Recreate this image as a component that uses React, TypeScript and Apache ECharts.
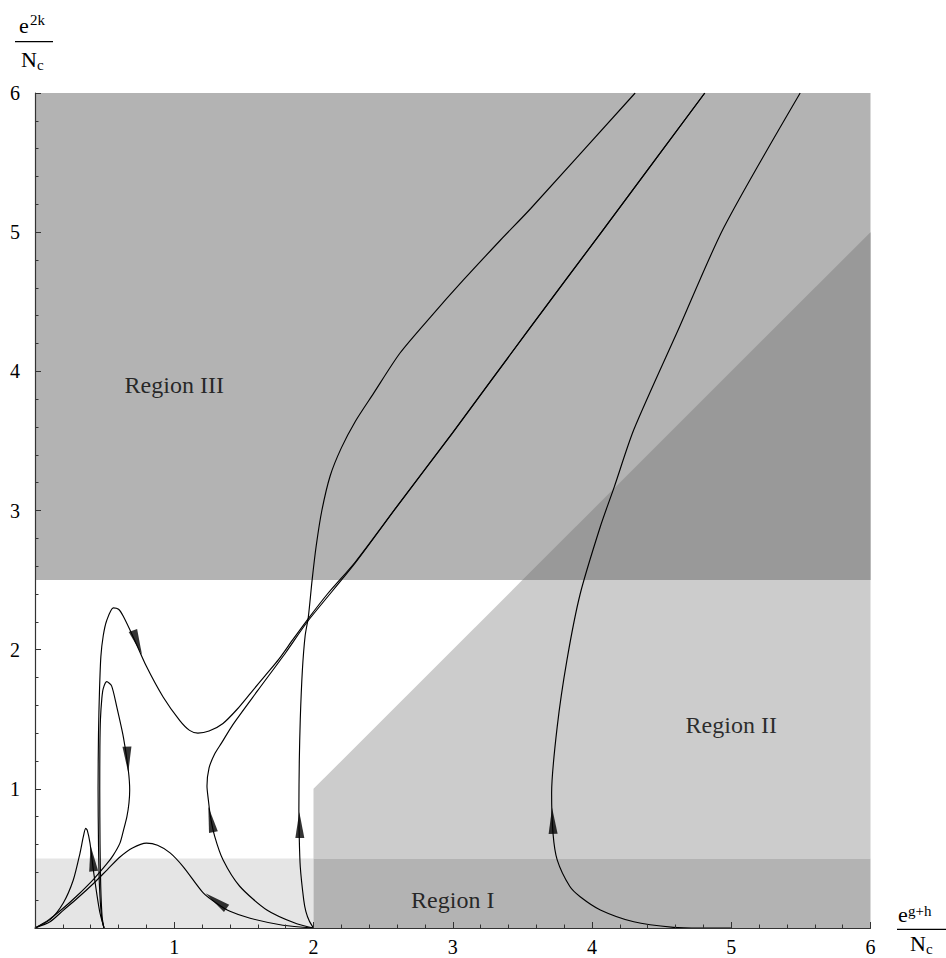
import React, { useEffect, useRef } from 'react';
import * as echarts from 'echarts';

// ---- axis ticks ----
const X_TICK_VALUES = [0, 1, 2, 3, 4, 5, 6];
const Y_TICK_VALUES = [0, 1, 2, 3, 4, 5, 6];

// ---- shaded regions (data coordinates) ----
const REGION_I_LEFT = [[0, 0], [2, 0], [2, 0.5], [0, 0.5]];
const REGION_I_II = [[2, 0], [6, 0], [6, 0.5], [2, 0.5]];
const REGION_II = [[2, 0.5], [6, 0.5], [6, 2.5], [3.5, 2.5], [2, 1]];
const REGION_III = [[0, 2.5], [6, 2.5], [6, 6], [0, 6]];
const REGION_II_III = [[3.5, 2.5], [6, 2.5], [6, 5]];

const REGION_LABELS = [
  { name: 'Region III', pos: [1.0, 3.9] },
  { name: 'Region II', pos: [5.0, 1.46] },
  { name: 'Region I', pos: [3.0, 0.2] },
];

// ---- flow lines ----
const CURVE_HUMP = [
  [0, 0], [0.108, 0.06], [0.203, 0.18], [0.275, 0.345], [0.323, 0.537], [0.347, 0.656],
  [0.364, 0.716], [0.376, 0.70], [0.395, 0.61], [0.419, 0.417], [0.443, 0.25], [0.467, 0.106], [0.496, 0],
];
const CURVE_B = [
  [0.495, 0], [0.482, 0.08], [0.472, 0.3], [0.467, 0.6], [0.465, 1.0], [0.466, 1.3], [0.47, 1.5],
  [0.48, 1.65], [0.49, 1.72], [0.515, 1.77], [0.55, 1.74], [0.587, 1.59], [0.635, 1.37],
  [0.67, 1.135], [0.68, 0.99], [0.675, 0.9], [0.66, 0.8], [0.635, 0.7], [0.61, 0.61],
  [0.56, 0.52], [0.515, 0.46], [0.42, 0.35], [0.3, 0.23], [0.2, 0.14], [0.1, 0.06], [0, 0],
];
const CURVE_C = [
  [0, 0], [0.108, 0.045], [0.203, 0.127], [0.3, 0.21], [0.42, 0.32], [0.52, 0.42], [0.61, 0.51],
  [0.7, 0.575], [0.8, 0.61], [0.88, 0.595], [0.97, 0.54], [1.065, 0.44], [1.21, 0.25],
  [1.3, 0.18], [1.4, 0.12], [1.545, 0.07], [1.78, 0.02], [2, 0],
];
const CURVE_H = [
  [0.495, 0], [0.478, 0.08], [0.463, 0.3], [0.456, 0.6], [0.453, 1.0], [0.456, 1.4], [0.463, 1.7],
  [0.473, 1.95], [0.49, 2.1], [0.515, 2.21], [0.5625, 2.3], [0.6, 2.29], [0.634, 2.24],
  [0.706, 2.09], [0.8, 1.88], [0.92, 1.66], [1.04, 1.49], [1.11, 1.42], [1.17, 1.4],
  [1.25, 1.415], [1.35, 1.47], [1.45, 1.57], [1.55, 1.69], [1.65, 1.81], [1.75, 1.93],
  [1.85, 2.07], [1.96, 2.22], [2.1, 2.4], [2.3, 2.63], [2.6, 3.03], [3.0, 3.56],
  [3.56, 4.32], [4.06, 4.99], [4.81, 6],
];
const CURVE_D = [
  [2, 0], [1.88, 0.03], [1.665, 0.13], [1.47, 0.3], [1.35, 0.49], [1.29, 0.66], [1.26, 0.8],
  [1.245, 0.92], [1.235, 1.02], [1.25, 1.15], [1.29, 1.25], [1.34, 1.33], [1.42, 1.46],
  [1.6, 1.707], [1.8, 1.978], [1.96, 2.206], [2.3, 2.623], [2.6, 3.03], [3.0, 3.56],
  [3.56, 4.32], [4.06, 4.99], [4.81, 6],
];
const CURVE_E = [
  [2, 0], [1.97, 0.05], [1.945, 0.12], [1.93, 0.2], [1.905, 0.44], [1.897, 0.68], [1.895, 0.85],
  [1.898, 1.2], [1.905, 1.5], [1.92, 1.85], [1.94, 2.1], [1.963, 2.236], [1.99, 2.5],
  [2.02, 2.75], [2.06, 3.0], [2.12, 3.25], [2.2, 3.45], [2.3, 3.64], [2.43, 3.84], [2.62, 4.13],
  [2.84, 4.39], [3.08, 4.66], [3.34, 4.94], [3.56, 5.17], [4.31, 6],
];
const CURVE_G = [
  [5, 0], [4.78, 0.0], [4.585, 0.005], [4.3, 0.045], [4.06, 0.13], [3.915, 0.225], [3.84, 0.3],
  [3.75, 0.49], [3.72, 0.68], [3.71, 0.97], [3.75, 1.445], [3.82, 1.925], [3.915, 2.4],
  [4.06, 2.885], [4.16, 3.17], [4.3, 3.58], [4.62, 4.3], [4.945, 5.03], [5.495, 6],
];

// arrows: [x, y, dx, dy] (position on the curve and flow direction)
const ARROWS = [
  [0.41, 0.5, -0.12, 1],
  [0.665, 1.21, 0.05, -1],
  [0.736, 2.05, 0.06, -0.16],
  [1.3, 0.195, -1, 0.72],
  [1.263, 0.78, -0.2, 1],
  [1.9, 0.74, -0.02, 1],
  [3.717, 0.77, -0.04, 1],
];

const REGIONS = [
  { points: REGION_I_LEFT, color: '#e5e5e5' },
  { points: REGION_II, color: '#cccccc' },
  { points: REGION_I_II, color: '#b3b3b3' },
  { points: REGION_III, color: '#b3b3b3' },
  { points: REGION_II_III, color: '#999999' },
];

const SERIF = "'Liberation Serif', 'Times New Roman', serif";

export default function App() {
  const ref = useRef<HTMLDivElement>(null);
  useEffect(() => {
    const chart = echarts.init(ref.current as HTMLDivElement, null, { renderer: 'svg' });

    const curve = (data: number[][], width = 1.15) => ({
      type: 'line',
      data,
      showSymbol: false,
      symbol: 'none',
      smooth: 0.25,
      lineStyle: { color: '#000', width },
      z: 3,
      silent: true,
    });

    const axisCommon = {
      type: 'value',
      min: 0,
      max: 6,
      interval: 1,
      z: 10,
      splitLine: { show: false },
      axisLine: { show: true, onZero: false, lineStyle: { color: '#333', width: 1.2 } },
      axisTick: { show: true, inside: true, length: 6, lineStyle: { color: '#333', width: 1 } },
      minorTick: { show: true, splitNumber: 5, length: 3.5, lineStyle: { color: '#333', width: 1 } },
      minorSplitLine: { show: false },
    };

    const option: any = {
      animation: false,
      backgroundColor: '#ffffff',
      grid: { left: 35, right: 75.5, top: 93, bottom: 30, containLabel: false, outerBoundsMode: 'none' },
      xAxis: {
        ...axisCommon,
        axisLabel: {
          show: true,
          margin: 9,
          fontFamily: SERIF,
          fontSize: 20,
          color: '#000',
          formatter: (v: number) => (X_TICK_VALUES.includes(v) && v !== 0 ? String(v) : ''),
        },
      },
      yAxis: {
        ...axisCommon,
        axisLabel: {
          show: true,
          margin: 15,
          fontFamily: SERIF,
          fontSize: 20,
          color: '#000',
          formatter: (v: number) => (Y_TICK_VALUES.includes(v) && v !== 0 ? String(v) : ''),
        },
      },
      series: [
        {
          type: 'custom',
          coordinateSystem: 'cartesian2d',
          silent: true,
          z: 1,
          clip: true,
          data: REGIONS.map((_, i) => [i, 0]),
          renderItem: (params: any, api: any) => {
            const r = REGIONS[api.value(0)];
            const pts = r.points.map((p) => api.coord(p));
            return { type: 'polygon', shape: { points: pts }, style: { fill: r.color } };
          },
        },
        curve(CURVE_HUMP),
        curve(CURVE_B),
        curve(CURVE_C),
        curve(CURVE_H),
        curve(CURVE_D),
        curve(CURVE_E),
        curve(CURVE_G),
        {
          type: 'scatter',
          z: 4,
          silent: true,
          symbol: 'path://M5,0 L10,28 L0,28 Z',
          symbolSize: [9, 26],
          itemStyle: { color: '#000' },
          data: ARROWS.map((a) => ({
            value: [a[0], a[1]],
            symbolRotate: (Math.atan2(a[3], a[2]) * 180) / Math.PI - 90,
          })),
        },
        {
          type: 'scatter',
          z: 4,
          silent: true,
          symbolSize: 0,
          data: REGION_LABELS.map((r) => ({ value: r.pos, name: r.name })),
          label: {
            show: true,
            position: 'inside',
            formatter: (p: any) => p.name,
            fontFamily: SERIF,
            fontSize: 24,
            color: '#000',
          },
        },
      ],
      graphic: [
        // y axis name: e^{2k} / N_c
        { type: 'text', x: 19, y: 25.6, style: { text: 'e', font: `22px ${SERIF}`, fill: '#000', verticalAlign: 'middle' } },
        { type: 'text', x: 30, y: 20, style: { text: '2k', font: `15px ${SERIF}`, fill: '#000', verticalAlign: 'middle' } },
        { type: 'line', shape: { x1: 15, y1: 41.7, x2: 53, y2: 41.7 }, style: { stroke: '#000', lineWidth: 1.3 } },
        { type: 'text', x: 21, y: 59.6, style: { text: 'N', font: `22px ${SERIF}`, fill: '#000', verticalAlign: 'middle' } },
        { type: 'text', x: 37, y: 65, style: { text: 'c', font: `15px ${SERIF}`, fill: '#000', verticalAlign: 'middle' } },
        // x axis name: e^{g+h} / N_c
        { type: 'text', x: 898, y: 914.6, style: { text: 'e', font: `22px ${SERIF}`, fill: '#000', verticalAlign: 'middle' } },
        { type: 'text', x: 908, y: 911, style: { text: 'g+h', font: `15px ${SERIF}`, fill: '#000', verticalAlign: 'middle' } },
        { type: 'line', shape: { x1: 897, y1: 929.3, x2: 946, y2: 929.3 }, style: { stroke: '#000', lineWidth: 1.3 } },
        { type: 'text', x: 910, y: 943.5, style: { text: 'N', font: `22px ${SERIF}`, fill: '#000', verticalAlign: 'middle' } },
        { type: 'text', x: 926, y: 948.5, style: { text: 'c', font: `15px ${SERIF}`, fill: '#000', verticalAlign: 'middle' } },
      ],
    };

    chart.setOption(option);
    return () => chart.dispose();
  }, []);

  return (
    <div
      ref={ref}
      style={{ position: 'fixed', left: 0, top: 0, width: 946, height: 958, background: '#fff' }}
    />
  );
}
